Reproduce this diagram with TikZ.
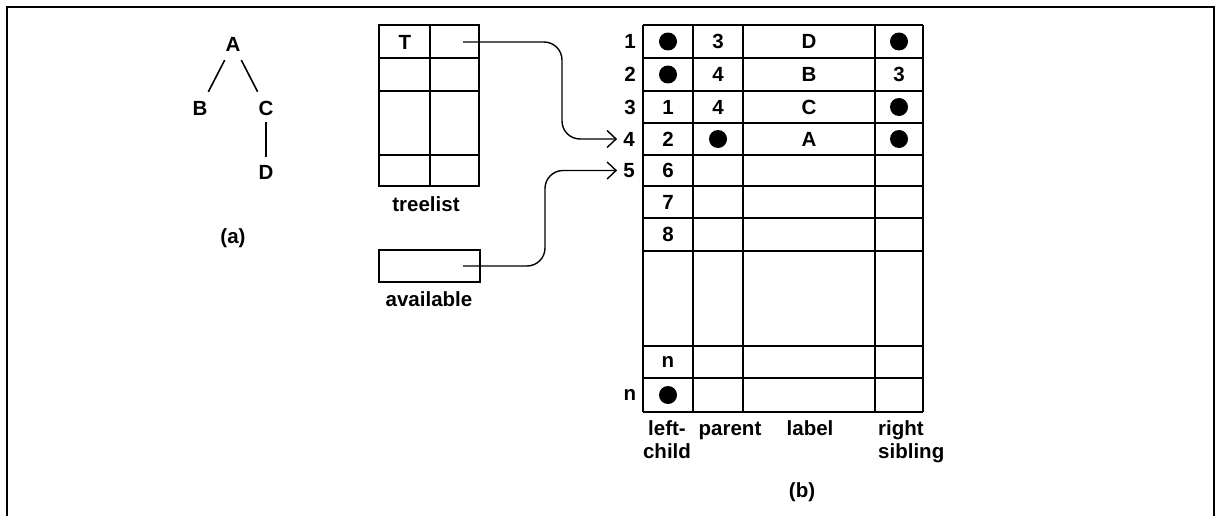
\documentclass[tikz,border=0pt]{standalone}
\usepackage{fontspec}
\setmainfont{Liberation Sans}
\usetikzlibrary{arrows.meta}
\begin{document}
\begin{tikzpicture}[x=1pt,y=-1pt,
  txt/.style={font=\fontsize{20.5}{23}\selectfont\bfseries, inner sep=0pt},
  grid/.style={line width=1.6pt},
  frame/.style={line width=2.6pt},
  dot/.style={circle, fill=black, inner sep=0pt, minimum size=18pt},
  conn/.style={line width=1.4pt, rounded corners=18pt, -{Straight Barb[length=9pt,width=17pt,line width=1.4pt]}},
  edge/.style={line width=1.6pt, shorten <=10pt, shorten >=10pt}]
\useasboundingbox (0,0) rectangle (1217,516);
% frame
\draw[frame] (7,516) -- (7,7) -- (1214,7) -- (1214,516);
% tree (a)
\node[txt] (A) at (233,44) {A};
\node[txt] (B) at (200,108) {B};
\node[txt] (C) at (266,108) {C};
\node[txt] (D) at (266,172) {D};
\draw[edge] (A) -- (B);
\draw[edge] (A) -- (C);
\draw[line width=1.6pt, shorten <=7pt, shorten >=8pt] (C) -- (D);
\node[txt] (la) at (233,238) {(a)};
% treelist
\draw[grid] (379,25) rectangle (479,186);
\foreach \yy in {58,91,155} \draw[grid] (379,\yy) -- (479,\yy);
\draw[grid] (430,25) -- (430,186);
\node[txt] (T) at (405,42) {T};
\coordinate (s1) at (463,42);
\node[txt, anchor=base] (tl) at (426,211) {treelist};
% available
\draw[grid] (379,250) rectangle (480,282);
\coordinate (s2) at (463,266);
\node[txt, anchor=base] (av) at (429,306) {available};
% main table
\foreach \yy in {25,58,91,123,155,186,218,251,346,378,412} \draw[grid] (643,\yy) -- (923,\yy);
\foreach \xx in {643,693,743,875,923} \draw[grid] (\xx,25) -- (\xx,412);
% row numbers
\node[txt] (r1) at (630,41.5) {1};
\node[txt] (r2) at (630,74.5) {2};
\node[txt] (r3) at (630,107) {3};
\node[txt] (r4) at (629,139) {4};
\node[txt] (r5) at (629,170.5) {5};
\node[txt] (rn) at (630,395) {n};
% cells
\node[dot] (c11) at (668,41.5) {};
\node[txt] (c12) at (718,41.5) {3};
\node[txt] (c13) at (809,41.5) {D};
\node[dot] (c14) at (899,41.5) {};
\node[dot] (c21) at (668,74.5) {};
\node[txt] (c22) at (718,74.5) {4};
\node[txt] (c23) at (809,74.5) {B};
\node[txt] (c24) at (899,74.5) {3};
\node[txt] (c31) at (668,107) {1};
\node[txt] (c32) at (718,107) {4};
\node[txt] (c33) at (809,107) {C};
\node[dot] (c34) at (899,107) {};
\node[txt] (c41) at (668,139) {2};
\node[dot] (c42) at (718,139) {};
\node[txt] (c43) at (809,139) {A};
\node[dot] (c44) at (899,139) {};
\node[txt] (c51) at (668,170.5) {6};
\node[txt] (c61) at (668,202) {7};
\node[txt] (c71) at (668,234.5) {8};
\node[txt] (c91) at (668,362) {n};
\node[dot] (ca1) at (668,395) {};
% column labels
\node[txt, anchor=north, align=center] (h1) at (667,420) {left-\\child};
\node[txt, anchor=base] (h2) at (730,435) {parent};
\node[txt, anchor=base] (h3) at (810,435) {label};
\node[txt, anchor=north west, align=left] (h4) at (878,420) {right\\sibling};
\node[txt] (lb) at (802,492) {(b)};
% connectors
\coordinate (j1) at (562,0);
\coordinate (j2) at (545,0);
\draw[conn, shorten >=6pt] (s1) -| (j1 |- r4.west) -- (r4.west);
\draw[conn, shorten >=6pt] (s2) -| (j2 |- r5.west) -- (r5.west);
\end{tikzpicture}
\end{document}
